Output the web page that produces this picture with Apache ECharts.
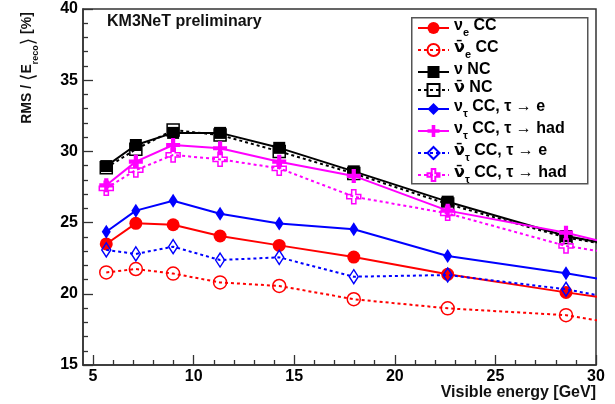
<!DOCTYPE html>
<html><head><meta charset="utf-8">
<script src="https://cdn.jsdelivr.net/npm/echarts@6/dist/echarts.min.js"></script>
<style>html,body{margin:0;padding:0;background:#fff}#c{width:615px;height:404px}</style>
</head><body><div id="c"></div>
<script>
// Visible energy bin centres (last one lies beyond the frame, its line is clipped at 30)
const energy = [5.657, 7.127, 8.980, 11.314, 14.254, 17.959, 22.627, 28.509, 35.919];
const nueCC        = [23.50, 24.95, 24.85, 24.06, 23.40, 22.58, 21.37, 20.10, 18.60];
const nuebarCC     = [21.50, 21.74, 21.42, 20.80, 20.55, 19.62, 18.98, 18.50, 16.77];
const nuNC         = [28.97, 30.45, 31.30, 31.30, 30.25, 28.60, 26.47, 24.06, 22.07];
const nubarNC      = [28.85, 30.15, 31.50, 31.15, 30.00, 28.45, 26.30, 23.95, 22.20];
const nutauE       = [24.36, 25.84, 26.54, 25.62, 24.93, 24.53, 22.65, 21.44, 19.70];
const nutauHad     = [27.62, 29.28, 30.45, 30.22, 29.28, 28.28, 25.84, 24.29, 21.76];
const nutaubarE    = [23.08, 22.80, 23.31, 22.37, 22.56, 21.20, 21.32, 20.32, 18.33];
const nutaubarHad  = [27.41, 28.69, 29.75, 29.44, 28.81, 26.82, 25.65, 23.36, 21.72];

const seriesNames = ['ν_e CC', 'ν\u0304_e CC', 'ν NC', 'ν\u0304 NC',
  'ν_τ CC, τ → e', 'ν_τ CC, τ → had', 'ν\u0304_τ CC, τ → e', 'ν\u0304_τ CC, τ → had'];
const xTicks = [5, 10, 15, 20, 25, 30];
const xMinor = [6,7,8,9,11,12,13,14,16,17,18,19,21,22,23,24,26,27,28,29];
const yTicks = [15, 20, 25, 30, 35, 40];

const F = '"Liberation Sans", Arial, Helvetica, sans-serif';
const RED = '#ff0000', BLUE = '#0000ff', MAG = '#ff00ff', BLK = '#000000';
const CROSS = 'path://M3.5,0 L6.5,0 L6.5,3.5 L10,3.5 L10,6.5 L6.5,6.5 L6.5,10 L3.5,10 L3.5,6.5 L0,6.5 L0,3.5 L3.5,3.5 Z';
const DOT = [3, 3];

const styles = [
  {data: nueCC, color: RED, symbol: 'circle', size: 13, open: false, dash: 'solid'},
  {data: nuebarCC, color: RED, symbol: 'circle', size: 13, open: true, dash: DOT},
  {data: nuNC, color: BLK, symbol: 'rect', size: 12, open: false, dash: 'solid'},
  {data: nubarNC, color: BLK, symbol: 'rect', size: 12, open: true, dash: DOT},
  {data: nutauE, color: BLUE, symbol: 'diamond', size: [9, 14], open: false, dash: 'solid'},
  {data: nutauHad, color: MAG, symbol: CROSS, size: 14, open: false, dash: 'solid'},
  {data: nutaubarE, color: BLUE, symbol: 'diamond', size: [9, 14], open: true, dash: DOT},
  {data: nutaubarHad, color: MAG, symbol: CROSS, size: 14, open: true, dash: DOT}
];

const series = styles.map((s, i) => ({
  name: seriesNames[i],
  type: 'line',
  xAxisIndex: 0, yAxisIndex: 0,
  data: energy.map((e, k) => [e, s.data[k]]),
  symbol: s.symbol,
  symbolSize: s.size,
  showAllSymbol: true,
  clip: true,
  lineStyle: {color: s.color, width: 2, type: s.dash},
  itemStyle: s.open ? {color: 'rgba(0,0,0,0)', borderColor: s.color, borderWidth: 1.5}
                    : {color: s.color, borderWidth: 0},
  emphasis: {disabled: true},
  z: 2 + i
}));

function richName(name) {
  return name.split(/(ν\u0304|_.)/).filter(t => t).map(t => {
    if (t === 'ν\u0304') return '{g|' + t + '}';
    if (t[0] === '_') return '{s|' + t.slice(1) + '}';
    return '{n|' + t + '}';
  }).join('');
}
const richStyles = {
  n: {fontSize: 16, fontWeight: 'bold', fontFamily: F, lineHeight: 20, verticalAlign: 'top', color: '#000'},
  g: {fontSize: 16, fontWeight: 'bold', fontFamily: '"DejaVu Sans", sans-serif', lineHeight: 20, verticalAlign: 'top', color: '#000'},
  s: {fontSize: 11, fontWeight: 'bold', fontFamily: F, lineHeight: 9, verticalAlign: 'bottom', color: '#000'}
};

const axisCol = '#333';
const option = {
  animation: false,
  backgroundColor: '#fff',
  grid: {left: 83, right: 19, top: 9, bottom: 39, show: true, borderColor: axisCol, borderWidth: 1.5,
         outerBoundsMode: 'none', containLabel: false},
  xAxis: [{
    type: 'value', min: 4.5, max: 30, position: 'bottom',
    axisLine: {show: true, lineStyle: {color: axisCol, width: 1.5}},
    axisTick: {show: true, inside: true, length: 10, customValues: xTicks, lineStyle: {color: axisCol, width: 1.3}},
    axisLabel: {show: true, customValues: xTicks, margin: 4, fontSize: 16, fontWeight: 'bold', fontFamily: F, color: '#000'},
    splitLine: {show: false}
  }, {
    type: 'value', min: 4.5, max: 30, position: 'bottom',
    axisLine: {show: false},
    axisTick: {show: true, inside: true, length: 5, customValues: xMinor, lineStyle: {color: axisCol, width: 1.3}},
    axisLabel: {show: false},
    splitLine: {show: false}
  }],
  yAxis: [{
    type: 'value', min: 15, max: 40, interval: 5,
    axisLine: {show: true, lineStyle: {color: axisCol, width: 1.5}},
    axisTick: {show: true, inside: true, length: 10, lineStyle: {color: axisCol, width: 1.3}},
    minorTick: {show: true, splitNumber: 5, length: 5, lineStyle: {color: axisCol, width: 1.3}},
    axisLabel: {show: true, margin: 5, fontSize: 16, fontWeight: 'bold', fontFamily: F, color: '#000',
                formatter: v => yTicks.includes(v) ? String(v) : ''},
    splitLine: {show: false}
  }],
  legend: {
    orient: 'vertical', left: 417, top: 18, padding: 0,
    itemWidth: 31, itemHeight: 15, itemGap: 2,
    borderWidth: 0, selectedMode: false,
    data: seriesNames,
    formatter: richName,
    textStyle: {rich: richStyles, fontSize: 16, fontFamily: F}
  },
  graphic: [
    {type: 'rect', left: 411, top: 17, z: 0, silent: true,
     shape: {width: 176, height: 166}, style: {fill: '#fff', stroke: '#555', lineWidth: 1.5}},
    {type: 'text', x: 107, y: 22, silent: true,
     style: {text: 'KM3NeT preliminary', fontSize: 16, fontWeight: 'bold', fontFamily: F,
             fill: '#111', align: 'left', verticalAlign: 'middle'}},
    {type: 'text', x: 596, y: 393, silent: true,
     style: {text: 'Visible energy [GeV]', fontSize: 16, fontWeight: 'bold', fontFamily: F,
             fill: '#111', align: 'right', verticalAlign: 'middle'}},
    {type: 'text', x: 30, y: 68, rotation: Math.PI / 2, silent: true,
     style: {text: '{n|RMS / }{b|⟨}{n|E}{s|reco}{b|⟩}{n| [%]}', align: 'center', verticalAlign: 'middle',
             fill: '#111',
             rich: {
               n: {fontSize: 14, fontWeight: 'bold', fontFamily: F, lineHeight: 20, verticalAlign: 'top', fill: '#111'},
               b: {fontSize: 19, fontFamily: '"DejaVu Sans", sans-serif', lineHeight: 20, verticalAlign: 'top', fill: '#111'},
               s: {fontSize: 9, fontWeight: 'bold', fontFamily: F, lineHeight: 8, verticalAlign: 'bottom', fill: '#111'}
             }}}
  ],
  series: series
};
const chart = echarts.init(document.getElementById('c'), null, {renderer: 'canvas'});
chart.setOption(option);
</script>
</body></html>
